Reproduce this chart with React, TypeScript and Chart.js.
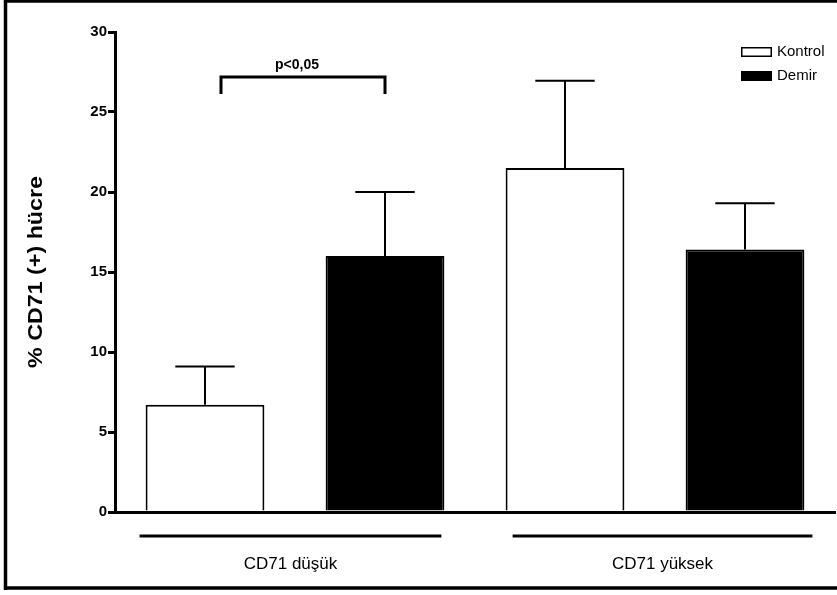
import React, { useEffect, useRef } from "react";
import { Chart, registerables } from "chart.js";

Chart.register(...registerables);

const categories = ["CD71 düşük", "CD71 yüksek"];
const seriesNames = ["Kontrol", "Demir"];
const kontrolMeans = [6.7, 21.5];
const kontrolErr = [2.4, 5.45];
const demirMeans = [16.0, 16.4];
const demirErr = [4.0, 2.9];
const yMin = 0;
const yMax = 30;
const yStep = 5;
const yTitle = "% CD71 (+) hücre";
const sigLabel = "p<0,05";

const FONT = "'Liberation Sans', Arial, Helvetica, sans-serif";

const overlayPlugin = {
  id: "overlay",
  afterDatasetsDraw(chart: any) {
    const ctx = chart.ctx;
    const errs = [kontrolErr, demirErr];
    const means = [kontrolMeans, demirMeans];
    const y = chart.scales.y;
    ctx.save();
    ctx.strokeStyle = "#000";
    ctx.lineWidth = 2;
    ctx.lineCap = "butt";
    chart.data.datasets.forEach((_ds: any, di: number) => {
      const meta = chart.getDatasetMeta(di);
      meta.data.forEach((bar: any, i: number) => {
        const x = bar.x;
        const half = bar.width / 4;
        const y0 = y.getPixelForValue(means[di][i]);
        const y1 = y.getPixelForValue(means[di][i] + errs[di][i]);
        ctx.beginPath();
        ctx.moveTo(x, y0);
        ctx.lineTo(x, y1);
        ctx.moveTo(x - half, y1);
        ctx.lineTo(x + half, y1);
        ctx.stroke();
      });
    });
    ctx.restore();
  },
  afterDraw(chart: any) {
    const ctx = chart.ctx;
    const area = chart.chartArea;
    ctx.save();
    // frame
    ctx.strokeStyle = "#000";
    ctx.lineWidth = 3.5;
    ctx.lineCap = "butt";
    ctx.beginPath();
    ctx.moveTo(5.5, 590);
    ctx.lineTo(5.5, 1);
    ctx.lineTo(840, 1);
    ctx.moveTo(3.75, 588);
    ctx.lineTo(840, 588);
    ctx.stroke();

    // group lines + labels
    const m0 = chart.getDatasetMeta(0).data;
    const m1 = chart.getDatasetMeta(1).data;
    ctx.lineWidth = 3;
    const lineY = area.bottom + 24;
    categories.forEach((cat, i) => {
      const l = m0[i].x - m0[i].width / 2 + (i === 0 ? -6 : 7);
      const r = m1[i].x + m1[i].width / 2 + (i === 0 ? -3 : 8);
      ctx.beginPath();
      ctx.moveTo(l, lineY);
      ctx.lineTo(r, lineY);
      ctx.stroke();
      ctx.fillStyle = "#000";
      ctx.font = `17px ${FONT}`;
      ctx.textAlign = "center";
      ctx.textBaseline = "middle";
      ctx.fillText(cat, (l + r) / 2, lineY + 28);
    });

    // significance bracket
    const bl = m0[0].x + 16;
    const br = m1[0].x;
    const by = 77;
    ctx.lineWidth = 3;
    ctx.beginPath();
    ctx.moveTo(bl, by + 17);
    ctx.lineTo(bl, by);
    ctx.lineTo(br, by);
    ctx.lineTo(br, by + 17);
    ctx.stroke();
    ctx.font = `bold 14px ${FONT}`;
    ctx.textAlign = "center";
    ctx.textBaseline = "middle";
    ctx.fillText(sigLabel, (bl + br) / 2 - 6, by - 12);

    // legend
    const lx = 741;
    const ly = [47, 71];
    ctx.font = `15px ${FONT}`;
    ctx.textAlign = "left";
    seriesNames.forEach((name, i) => {
      if (i === 0) {
        ctx.fillStyle = "#fff";
        ctx.fillRect(lx, ly[i], 31, 9);
        ctx.lineWidth = 1.5;
        ctx.strokeStyle = "#000";
        ctx.strokeRect(lx + 0.75, ly[i] + 0.75, 29.5, 8.5);
      } else {
        ctx.fillStyle = "#000";
        ctx.fillRect(lx, ly[i], 31, 10);
      }
      ctx.fillStyle = "#000";
      ctx.fillText(name, lx + 36, ly[i] + 5);
    });

    // y title
    ctx.translate(36, (area.top + area.bottom) / 2);
    ctx.rotate(-Math.PI / 2);
    ctx.font = `bold 21px ${FONT}`;
    const w = ctx.measureText(yTitle).width;
    ctx.scale(192 / w, 1);
    ctx.textAlign = "center";
    ctx.textBaseline = "middle";
    ctx.fillText(yTitle, 0, 0);
    ctx.restore();
  },
};

export default function App() {
  const ref = useRef<HTMLCanvasElement>(null);
  useEffect(() => {
    document.body.style.margin = "0";
    const chart = new Chart(ref.current!, {
      type: "bar",
      data: {
        labels: categories,
        datasets: [
          {
            label: seriesNames[0],
            data: kontrolMeans,
            backgroundColor: "#fff",
            borderColor: "#000",
            borderWidth: 2,
          },
          {
            label: seriesNames[1],
            data: demirMeans,
            backgroundColor: "#000",
            borderColor: "#000",
            borderWidth: 2,
          },
        ],
      },
      options: {
        responsive: false,
        maintainAspectRatio: false,
        animation: false,
        layout: { padding: { top: 32, right: 2, left: 0, bottom: 0 } },
        plugins: { legend: { display: false }, tooltip: { enabled: false } },
        datasets: { bar: { categoryPercentage: 1, barPercentage: 0.66 } },
        scales: {
          x: {
            grid: { display: false },
            ticks: { display: false },
            border: { display: true, color: "#000", width: 3 },
            afterFit: (s: any) => {
              s.height = 83;
            },
          },
          y: {
            min: yMin,
            max: yMax,
            ticks: {
              stepSize: yStep,
              color: "#000",
              padding: 1,
              font: { family: FONT, size: 15, weight: "bold" },
            },
            grid: {
              drawOnChartArea: false,
              drawTicks: true,
              tickLength: 7,
              lineWidth: 3,
              color: "#000",
            },
            border: { display: true, color: "#000", width: 3 },
            afterFit: (s: any) => {
              s.width = 115;
            },
          },
        },
      },
      plugins: [overlayPlugin],
    });
    return () => chart.destroy();
  }, []);
  return (
    <div style={{ width: 837, height: 595 }}>
      <canvas ref={ref} width={837} height={595} style={{ display: "block" }} />
    </div>
  );
}
